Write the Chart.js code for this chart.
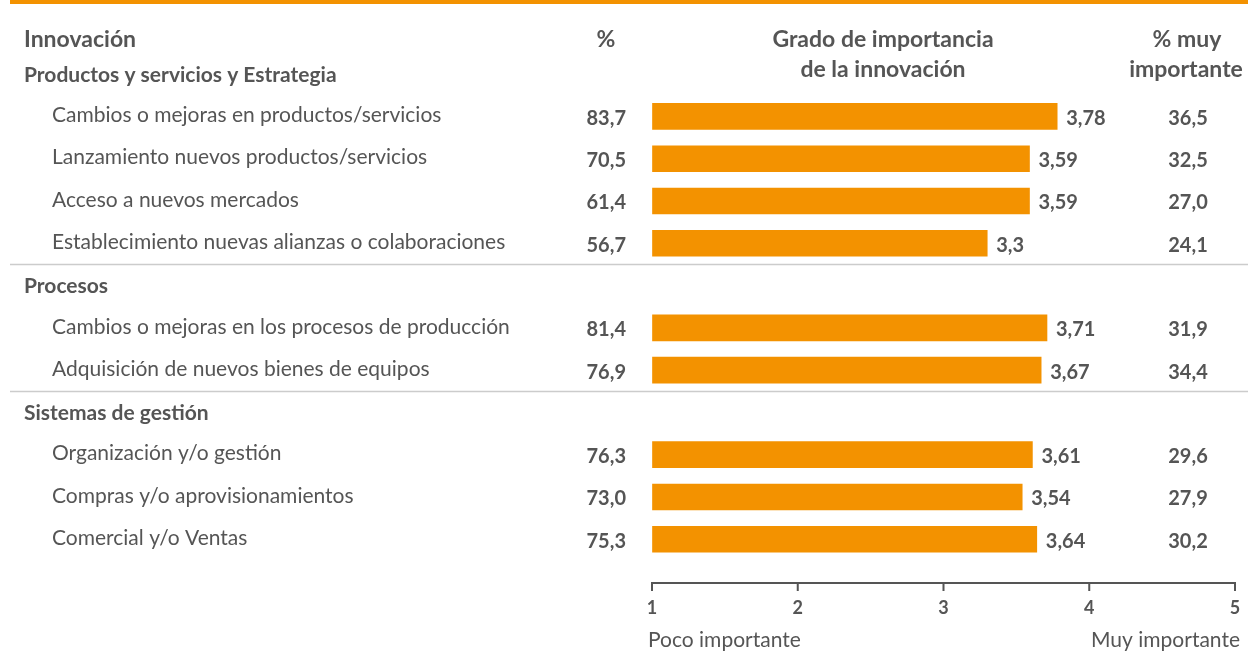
<!DOCTYPE html>
<html>
<head>
<meta charset="utf-8">
<script src="https://cdn.jsdelivr.net/npm/chart.js@4"></script>
<style>
  body { margin: 0; background: #fff; }
  canvas { display: block; }
</style>
</head>
<body>
<canvas id="chart" width="1248" height="671"></canvas>
<script>
// rows of the table (group headers have no values)
const labels = [
  "Productos y servicios y Estrategia",
  "Cambios o mejoras en productos/servicios",
  "Lanzamiento nuevos productos/servicios",
  "Acceso a nuevos mercados",
  "Establecimiento nuevas alianzas o colaboraciones",
  "Procesos",
  "Cambios o mejoras en los procesos de producción",
  "Adquisición de nuevos bienes de equipos",
  "Sistemas de gestión",
  "Organización y/o gestión",
  "Compras y/o aprovisionamientos",
  "Comercial y/o Ventas",
];
// grado de importancia (1-5)
const grado = [null, 3.78, 3.59, 3.59, 3.3, null, 3.71, 3.67, null, 3.61, 3.54, 3.64];
// % de empresas
const pct = [null, 83.7, 70.5, 61.4, 56.7, null, 81.4, 76.9, null, 76.3, 73.0, 75.3];
// % muy importante
const pctMuy = [null, 36.5, 32.5, 27.0, 24.1, null, 31.9, 34.4, null, 29.6, 27.9, 30.2];
const scaleTicks = [1, 2, 3, 4, 5];

const ORANGE = "#F39200";
const GREY = "#555555";
const FONT = "Lato";

const coma = (v) => String(v).replace(".", ",");
const coma1 = (v) => v.toFixed(1).replace(".", ",");

//draws the table text, separators and the axis line
const tablePlugin = {
  id: "table",
  afterDraw(chart) {
    const ctx = chart.ctx;
    const x = chart.scales.x;
    const y = chart.scales.y;
    const bars = chart.getDatasetMeta(0).data;
    ctx.save();

    // orange strip on top
    ctx.fillStyle = ORANGE;
    ctx.fillRect(10, 0, 1238, 4);

    // column headers
    ctx.fillStyle = GREY;
    ctx.textBaseline = "middle";
    ctx.font = "bold 23px " + FONT;
    ctx.textAlign = "left";
    ctx.fillText("Innovación", 24, 40);
    ctx.textAlign = "center";
    ctx.fillText("%", 606, 40);
    ctx.fillText("Grado de importancia", 883, 40);
    ctx.fillText("de la innovación", 883, 70);
    ctx.fillText("% muy", 1187, 40);
    ctx.fillText("importante", 1186, 70);

    // rows
    labels.forEach((lab, i) => {
      const py = y.getPixelForValue(i);
      ctx.fillStyle = GREY;
      if (grado[i] === null) {
        ctx.font = "bold 21px " + FONT;
        ctx.textAlign = "left";
        ctx.fillText(lab, 24, py + 1);
        if (i > 0) {
          // separator above group
          const sy = Math.round((py + y.getPixelForValue(i - 1)) / 2) + 0.5;
          ctx.strokeStyle = "#cccccc";
          ctx.lineWidth = 1.5;
          ctx.beginPath();
          ctx.moveTo(10, sy);
          ctx.lineTo(1248, sy);
          ctx.stroke();
        }
        return;
      }
      ctx.font = "21px " + FONT;
      ctx.textAlign = "left";
      ctx.fillText(lab, 52, py - 1);
      ctx.font = "bold 20px " + FONT;
      ctx.textAlign = "right";
      ctx.fillText(coma1(pct[i]), 626, py + 2);
      ctx.textAlign = "left";
      ctx.fillText(coma(grado[i]), bars[i].x + 9, py + 2);
      ctx.textAlign = "center";
      ctx.fillText(coma1(pctMuy[i]), 1188, py + 2);
    });

    // axis line with ticks
    const ay = 583;
    ctx.strokeStyle = GREY;
    ctx.lineWidth = 2;
    ctx.beginPath();
    ctx.moveTo(x.getPixelForValue(1), ay);
    ctx.lineTo(x.getPixelForValue(5), ay);
    x.ticks.forEach((t) => {
      const tx = x.getPixelForValue(t.value);
      ctx.moveTo(tx, ay - 1);
      ctx.lineTo(tx, ay + 8);
    });
    ctx.stroke();

    ctx.fillStyle = GREY;
    ctx.font = "21px " + FONT;
    ctx.textAlign = "left";
    ctx.fillText("Poco importante", 648, 640);
    ctx.textAlign = "right";
    ctx.fillText("Muy importante", 1240, 640);
    ctx.restore();
  },
};

new Chart(document.getElementById("chart"), {
  type: "bar",
  data: {
    labels: labels,
    datasets: [
      {
        data: grado,
        base: 1,
        backgroundColor: ORANGE,
        barThickness: 26,
      },
    ],
  },
  options: {
    indexAxis: "y",
    responsive: false,
    animation: false,
    layout: { padding: { left: 652, right: 13, top: 53, bottom: 52 } },
    plugins: {
      legend: { display: false },
      tooltip: { enabled: false },
    },
    scales: {
      y: { display: false, offset: true },
      x: {
        min: 1,
        max: 5,
        afterBuildTicks: (axis) => {
          axis.ticks = scaleTicks.map((v) => ({ value: v }));
        },
        // invisible tick marks only push the labels down
        grid: {
          display: true,
          drawOnChartArea: false,
          drawTicks: true,
          tickLength: 37,
          tickColor: "rgba(0,0,0,0)",
        },
        border: { display: false },
        ticks: {
          padding: 0,
          color: GREY,
          font: { family: FONT, size: 18, weight: "bold" },
        },
      },
    },
  },
  plugins: [tablePlugin],
});
</script>
</body>
</html>
